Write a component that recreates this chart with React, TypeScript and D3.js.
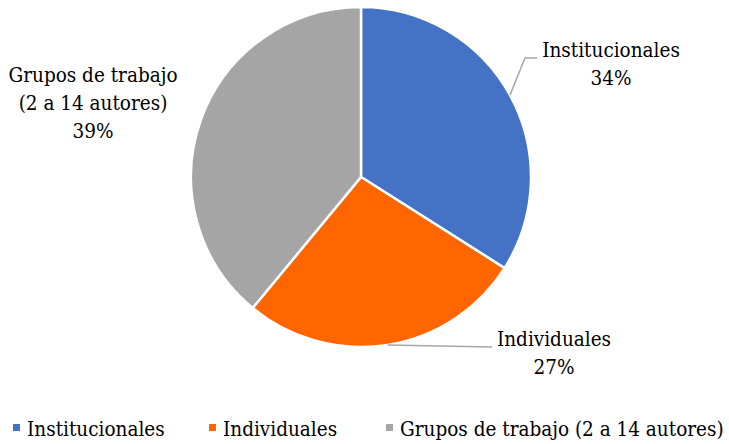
import React, { useEffect, useRef } from "react";
import * as d3 from "d3";

const categories = ["Institucionales", "Individuales", "Grupos de trabajo (2 a 14 autores)"];
const values = [34, 27, 39];
const colors = ["#4472C4", "#FF6600", "#A5A5A5"];
const labelLines = [["Institucionales", "34%"], ["Individuales", "27%"], ["Grupos de trabajo", "(2 a 14 autores)", "39%"]];

export default function App() {
  const ref = useRef<SVGSVGElement>(null);

  useEffect(() => {
    const width = 729;
    const height = 444;
    const cx = 361;
    const cy = 177;
    const radius = 170;
    const font = "DejaVu Serif Condensed, DejaVu Serif";
    const fontSize = 20.5;

    const svg = d3.select(ref.current);
    svg.selectAll("*").remove();
    svg.attr("width", width).attr("height", height);

    const pie = d3.pie<number>().sort(null).value(d => d);
    const arcs = pie(values);
    const arc = d3.arc<d3.PieArcDatum<number>>().innerRadius(0).outerRadius(radius);

    const g = svg.append("g").attr("transform", `translate(${cx},${cy})`);
    g.selectAll("path")
      .data(arcs)
      .enter()
      .append("path")
      .attr("d", arc)
      .attr("fill", (d, i) => colors[i])
      .attr("stroke", "#fff")
      .attr("stroke-width", 2.5)
      .attr("stroke-linejoin", "round");

    // label spots and leader line bends
    const labelPos = [
      { x: 611, y: 57, line: [[525, 58], [537, 58]] },
      { x: 554, y: 346, line: [[492, 347]] },
      { x: 93, y: 82, line: null },
    ];

    arcs.forEach((d, i) => {
      const lp = labelPos[i];
      if (lp.line) {
        const mid = (d.startAngle + d.endAngle) / 2;
        const sx = cx + radius * Math.sin(mid);
        const sy = cy - radius * Math.cos(mid);
        const pts = [[sx, sy], ...lp.line];
        svg.append("path")
          .attr("d", d3.line()(pts as [number, number][]))
          .attr("fill", "none")
          .attr("stroke", "#A6A6A6")
          .attr("stroke-width", 1.5);
      }
      const t = svg.append("text")
        .attr("x", lp.x)
        .attr("y", lp.y)
        .attr("text-anchor", "middle")
        .attr("font-family", font)
        .attr("font-stretch", "condensed")
        .attr("font-size", fontSize)
        .attr("fill", "#000");
      labelLines[i].forEach((s, j) => {
        t.append("tspan")
          .attr("x", lp.x)
          .attr("dy", j === 0 ? 0 : 28)
          .text(s);
      });
    });

    const legendX = [13, 209, 386];
    const legend = svg.append("g");
    categories.forEach((c, i) => {
      legend.append("rect")
        .attr("x", legendX[i])
        .attr("y", 424)
        .attr("width", 7)
        .attr("height", 7)
        .attr("fill", colors[i]);
      legend.append("text")
        .attr("x", legendX[i] + 14)
        .attr("y", 436)
        .attr("font-family", font)
        .attr("font-stretch", "condensed")
        .attr("font-size", fontSize)
        .attr("fill", "#000")
        .text(c);
    });
  }, []);

  return (
    <svg ref={ref} style={{ position: "absolute", left: 0, top: 0, background: "#fff" }}></svg>
  );
}
